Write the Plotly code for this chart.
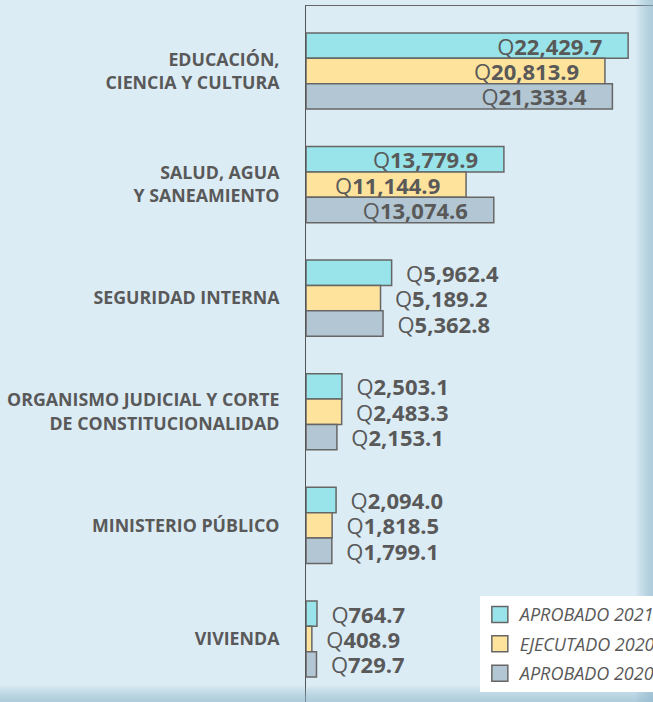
import plotly.graph_objects as go

categories = [
    "EDUCACIÓN,<br>CIENCIA Y CULTURA",
    "SALUD, AGUA<br>Y SANEAMIENTO",
    "SEGURIDAD INTERNA",
    "ORGANISMO JUDICIAL Y CORTE<br>DE CONSTITUCIONALIDAD",
    "MINISTERIO PÚBLICO",
    "VIVIENDA",
]
aprobado_2021 = [22429.7, 13779.9, 5962.4, 2503.1, 2094.0, 764.7]
ejecutado_2020 = [20813.9, 11144.9, 5189.2, 2483.3, 1818.5, 408.9]
aprobado_2020 = [21333.4, 13074.6, 5362.8, 2153.1, 1799.1, 729.7]

series = [
    ("APROBADO 2021", aprobado_2021, "#98e4ea"),
    ("EJECUTADO 2020", ejecutado_2020, "#fee39c"),
    ("APROBADO 2020", aprobado_2020, "#b2c7d3"),
]

TXT = "#595959"
NB = "\u00a0"
INSIDE_MIN = 10000

fig = go.Figure()
for name, vals, color in series:
    texts, positions = [], []
    for v in vals:
        s = f"Q<b>{v:,.1f}</b>"
        if v >= INSIDE_MIN:
            texts.append(s + NB * 4)
            positions.append("inside")
        else:
            texts.append(NB * 2 + s)
            positions.append("outside")
    fig.add_trace(go.Bar(
        y=categories, x=vals, orientation="h", name=name,
        marker=dict(color=color, line=dict(color="#666666", width=1.5)),
        text=texts, textposition=positions, insidetextanchor="end",
        textfont=dict(family="Open Sans", size=22, color=TXT),
        constraintext="none", cliponaxis=False, showlegend=False,
    ))
    fig.add_trace(go.Scatter(
        x=[None], y=[None], mode="markers", name=f"<i>{name}</i>",
        legendgroup=name,
        marker=dict(symbol="square", size=18, color=color,
                    line=dict(color="#666666", width=1.5)),
    ))

bg = "#dcecf5"
shapes = []
for i in range(8):
    shapes.append(dict(type="rect", xref="paper", yref="paper",
                       x0=0.951 + i * 0.006, x1=1.0, y0=0, y1=1.02,
                       fillcolor="#8fb9d2", opacity=0.1, line_width=0, layer="above"))
for i in range(8):
    shapes.append(dict(type="rect", xref="paper", yref="paper",
                       x0=-1, x1=1.0, y0=0, y1=0.023 - i * 0.0028,
                       fillcolor="#8fb9d2", opacity=0.1, line_width=0, layer="above"))

fig.update_layout(
    width=653, height=702,
    margin=dict(l=306, r=0, t=6, b=0, autoexpand=False),
    paper_bgcolor=bg, plot_bgcolor=bg,
    barmode="group", bargap=0.33, bargroupgap=0.0,
    font=dict(family="Open Sans", color=TXT),
    xaxis=dict(range=[0, 24160], side="top", showline=True, linecolor="#666666",
               linewidth=1, showgrid=False, zeroline=False, showticklabels=False,
               ticks=""),
    yaxis=dict(range=[5.555, -0.572], showline=True, linecolor="#555555",
               linewidth=1, showgrid=False, ticks="", ticklabelstandoff=22,
               tickfont=dict(family="Open Sans", size=17.8, color=TXT, weight="bold")),
    legend=dict(x=0.501, y=0.152, xanchor="left", yanchor="top",
                bgcolor="white", borderwidth=0,
                font=dict(family="Open Sans", size=18, color=TXT),
                itemwidth=30, traceorder="grouped", tracegroupgap=3),
    shapes=shapes,
)

fig.write_html("out.html", post_script="document.body.style.margin='0px';",
               config={"displayModeBar": False})
